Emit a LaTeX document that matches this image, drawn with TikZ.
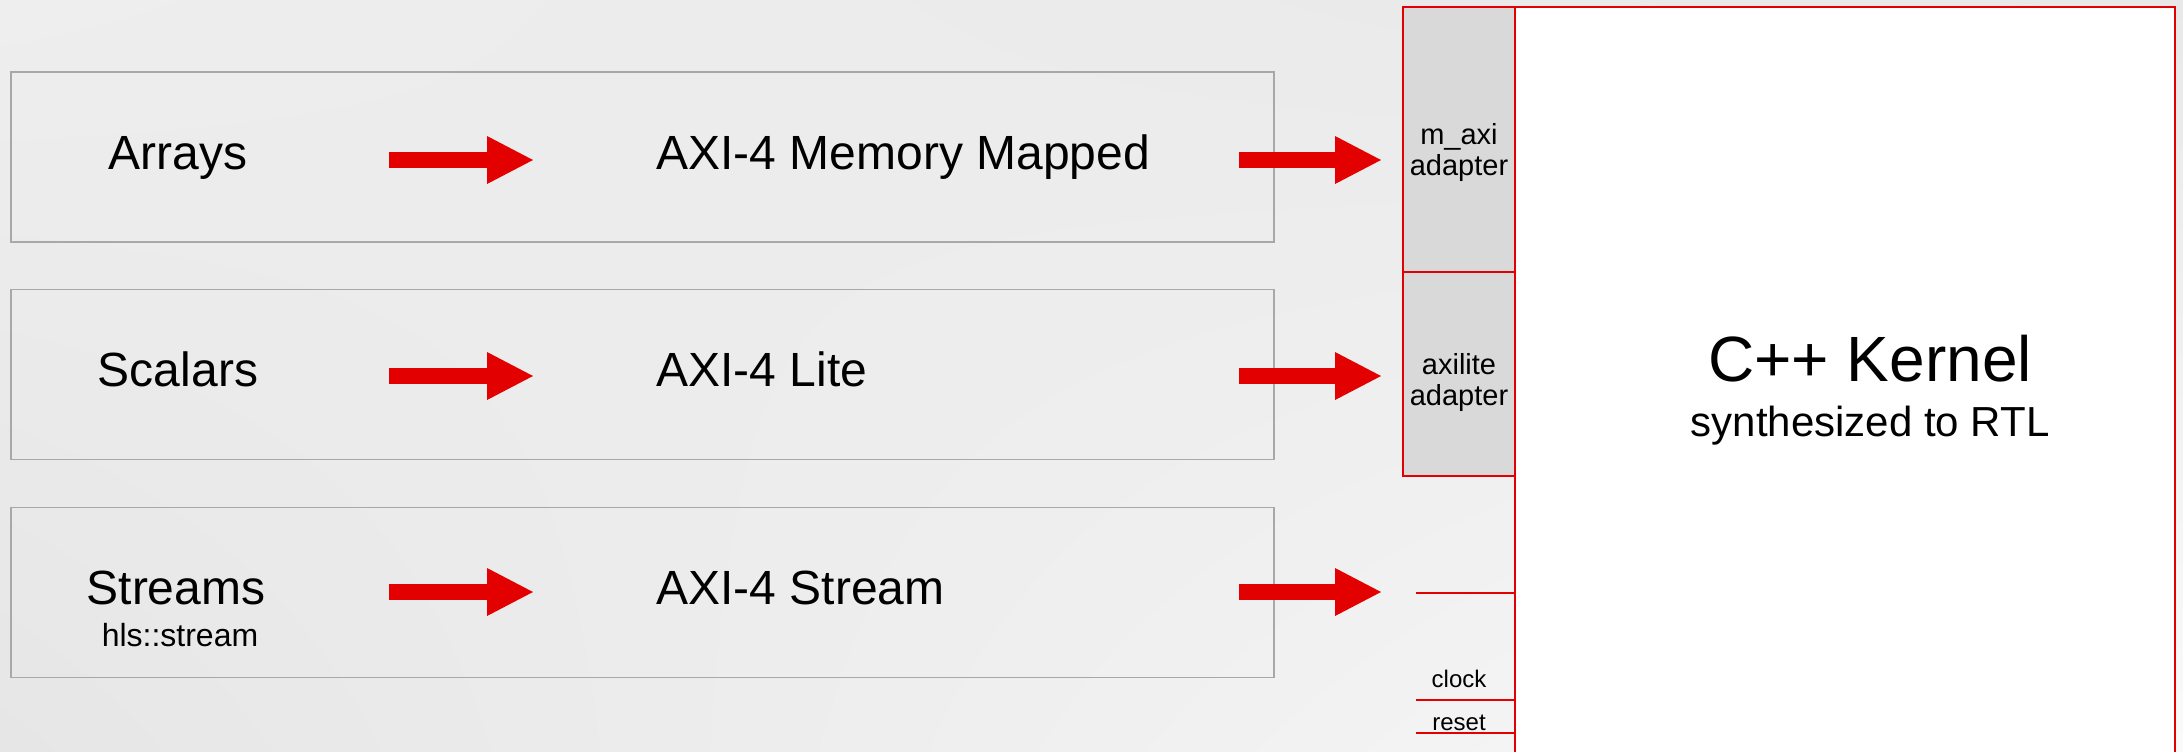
\documentclass[tikz,border=0pt]{standalone}
\usepackage{fontspec}
\setmainfont{Liberation Sans}
\usetikzlibrary{arrows.meta,positioning,shadings}
\definecolor{xred}{RGB}{226,0,0}
\definecolor{edgegrey}{RGB}{168,168,168}
\definecolor{adfill}{RGB}{217,217,217}
\definecolor{bgtl}{RGB}{238,238,238}
\definecolor{bgtr}{RGB}{232,232,232}
\definecolor{bgbl}{RGB}{230,230,230}
\definecolor{bgbr}{RGB}{250,250,250}
\tikzset{
  rowbox/.style={draw=edgegrey,line width=0.8pt,inner sep=0pt,
                 minimum width=631.5pt,minimum height=85pt},
  adbox/.style={draw=xred,fill=adfill,line width=1pt,inner sep=0pt,minimum width=56pt},
  kbox/.style={draw=xred,fill=white,line width=1pt,inner sep=0pt,
               minimum width=330pt,minimum height=376.5pt},
  bigtxt/.style={font=\fontsize{24}{28}\selectfont,inner sep=0pt},
  adtxt/.style={font=\fontsize{14.5}{15.5}\selectfont,align=center,inner sep=0pt},
  pintxt/.style={font=\fontsize{12}{14}\selectfont,inner sep=0pt,anchor=base},
  fat/.style={-{Triangle[length=23pt,width=24pt,line width=0pt]},line width=8pt,draw=xred},
  pin/.style={draw=xred,line width=0.6pt},
}

\begin{document}
\begin{tikzpicture}[x=0.5pt,y=-0.5pt]

  % --- frame and background ------------------------------------------------
  \useasboundingbox (0,0) rectangle (2183,751);
  \clip (0,0) rectangle (2183,751);
  \shade[upper left=bgtl,upper right=bgtr,lower left=bgbl,lower right=bgbr]
        (0,0) rectangle (2183,751);

  % --- the three argument kinds ---------------------------------------------
  \node[rowbox] (arrbox) at (642.5,157)   {};
  \node[rowbox] (sclbox) at (642.5,374.5) {};
  \node[rowbox] (strbox) at (642.5,592.5) {};

  \node[bigtxt,anchor=base] (arrays)  at (178,169) {Arrays};
  \node[bigtxt,anchor=base] (scalars) at (178,386) {Scalars};
  \node[bigtxt,anchor=base] (streams) at (176,604) {Streams};
  \node[font=\fontsize{16}{18}\selectfont,inner sep=0pt,anchor=base] (hls) at (180,646) {hls::stream};

  \node[bigtxt,anchor=base west] (axmm)   at (656,169) {AXI-4 Memory Mapped};
  \node[bigtxt,anchor=base west] (axlite) at (656,386) {AXI-4 Lite};
  \node[bigtxt,anchor=base west] (axstr)  at (656,604) {AXI-4 Stream};

  % --- kernel with its adapters ---------------------------------------------
  \node[kbox] (kern) at (1845,383.5) {};
  \node[adbox,minimum height=132.5pt] (madapt) at (1459,139.5) {};
  \node[adbox,minimum height=102pt]   (ladapt) at (1459,374)   {};

  \node[adtxt] (madtxt) at (1459,152) {m\_axi\\adapter};
  \node[adtxt] (ladtxt) at (1459,382) {axilite\\adapter};

  \node[font=\fontsize{32}{36}\selectfont,inner sep=0pt,anchor=base] (ktitle) at (1870,381) {C++ Kernel};
  \node[font=\fontsize{21}{24}\selectfont,inner sep=0pt,anchor=base] (ksub)   at (1870,436) {synthesized to RTL};

  % --- plain ports: stream, clock, reset ------------------------------------
  \coordinate (spin) at (1416,593);
  \coordinate (cpin) at (1416,700);
  \coordinate (rpin) at (1416,733);
  \foreach \p in {spin,cpin,rpin} \draw[pin] (\p) -- (\p -| kern.west);
  \node[pintxt] (clk) at (1459,687) {clock};
  \node[pintxt] (rst) at (1459,730) {reset};

  % --- block arrows ---------------------------------------------------------
  \foreach \n/\y in {1/160,2/376,3/592} {
    \coordinate (kin\n)  at (389,\y);
    \coordinate (kout\n) at (533,\y);
    \coordinate (ain\n)  at (1239,\y);
    \coordinate (aout\n) at (1381,\y);
    \draw[fat] (kin\n) -- (kout\n);
    \draw[fat] (ain\n) -- (aout\n);
  }

\end{tikzpicture}
\end{document}
